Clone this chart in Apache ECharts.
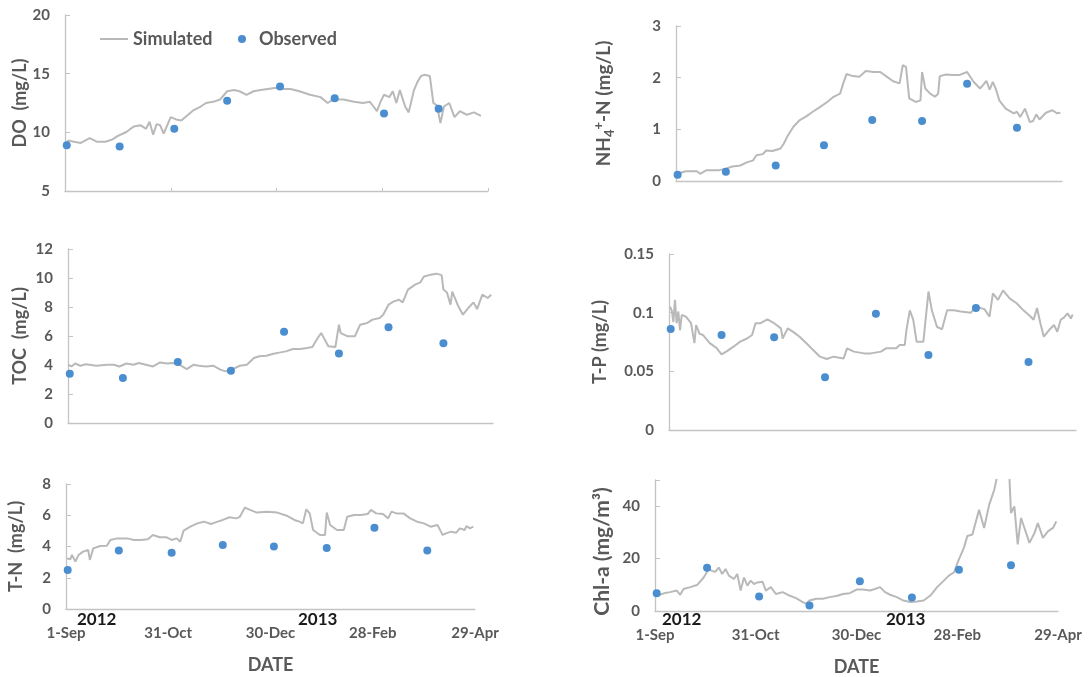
<!DOCTYPE html>
<html>
<head>
<meta charset="utf-8">
<script src="https://cdn.jsdelivr.net/npm/echarts@6/dist/echarts.min.js"></script>
<style>
  html, body { margin: 0; padding: 0; background: #fff; }
  #chart { width: 1088px; height: 677px; }
</style>
</head>
<body>
<div id="chart"></div>
<script>
// Days counted from 1 September 2012; ticks every 60 days
const xTickLabels = ['1-Sep', '31-Oct', '30-Dec', '28-Feb', '29-Apr'];
const yearLabels = ['2012', '2013'];

// Sampling days of the observations
const obsDays = [1, 31, 62, 92, 122, 153, 181, 212];

// Observed values
const doObs  = [8.9, 8.8, 10.3, 12.7, 13.9, 12.9, 11.6, 12.0];
const nh4Obs = [0.12, 0.18, 0.30, 0.69, 1.18, 1.16, 1.88, 1.03];
const tocObs = [3.4, 3.1, 4.2, 3.6, 6.3, 4.8, 6.6, 5.5];
const tpObs  = [0.086, 0.081, 0.079, 0.045, 0.099, 0.064, 0.104, 0.058];
const tnObs  = [2.5, 3.75, 3.6, 4.1, 4.0, 3.9, 5.2, 3.75];
const chlObs = [6.8, 16.5, 5.5, 2.1, 11.4, 5.2, 15.7, 17.5];

// Simulated series as [day, value]
const doSim = [[0,9.0],[2,9.3],[5,9.2],[9,9.1],[14,9.5],[18,9.2],[23,9.2],[27,9.4],[30,9.7],[33,9.9],
  [35,10.05],[39,10.5],[43,10.6],[46,10.3],[48,10.9],[50,9.8],[52,10.7],[54,10.6],[56,9.9],[60,11.3],
  [63,11.1],[66,11.0],[69,11.4],[73,11.9],[77,12.2],[80,12.5],[84,12.6],[88,12.8],[92,13.5],[96,13.6],
  [99,13.5],[103,13.2],[107,13.5],[111,13.6],[115,13.7],[120,13.8],[124,13.7],[128,13.7],[133,13.5],[139,13.2],
  [145,13.0],[149,12.5],[152,12.8],[158,12.8],[164,12.6],[169,12.5],[173,12.6],[175,12.2],[177,11.8],[179,12.6],
  [181,13.2],[184,13.0],[186,13.5],[188,12.5],[190,13.6],[193,12.2],[195,11.7],[198,13.6],[200,14.3],[202,14.8],
  [204,14.9],[207,14.8],[208,14.9],[209,12.5],[211,12.3],[213,10.8],[215,12.2],[218,12.5],[221,11.3],[224,11.8],
  [228,11.5],[232,11.7],[236,11.4]];

const nh4Sim = [[1,0.14],[6,0.19],[13,0.19],[15,0.14],[19,0.21],[27,0.21],[31,0.24],[35,0.28],[40,0.30],[44,0.36],
  [48,0.40],[50,0.50],[54,0.52],[56,0.59],[60,0.58],[65,0.63],[67,0.72],[69,0.85],[73,1.05],[77,1.18],
  [81,1.25],[85,1.34],[89,1.42],[94,1.53],[98,1.63],[102,1.69],[104,1.89],[106,2.07],[110,2.03],[114,2.02],
  [118,2.13],[123,2.11],[127,2.11],[131,2.02],[135,1.93],[139,1.89],[141,2.24],[143,2.21],[145,1.60],[149,1.53],
  [152,1.56],[153,2.11],[155,1.79],[158,1.69],[161,1.63],[163,1.69],[164,2.03],[168,2.06],[172,2.05],[176,2.05],
  [181,2.11],[185,1.92],[189,1.79],[191,1.86],[193,1.94],[195,1.77],[197,1.92],[199,1.77],[201,1.56],[205,1.40],
  [210,1.31],[212,1.34],[214,1.24],[217,1.40],[220,1.14],[222,1.16],[224,1.29],[226,1.19],[230,1.32],[234,1.37],
  [237,1.31],[239,1.32]];

const tocSim = [[0,4.02],[2,3.9],[4,4.1],[7,3.95],[10,4.05],[16,3.95],[22,4.02],[26,4.02],[29,3.9],[33,4.1],
  [37,4.02],[40,4.14],[44,4.02],[48,3.9],[52,4.18],[56,4.1],[59,4.14],[63,4.02],[67,3.72],[71,4.02],
  [74,3.95],[78,3.9],[82,3.95],[86,3.68],[89,3.56],[93,3.72],[97,3.95],[101,4.02],[105,4.48],[108,4.6],
  [112,4.64],[116,4.78],[120,4.87],[123,4.94],[127,5.1],[131,5.1],[135,5.17],[138,5.24],[141,5.86],[143,6.2],
  [145,5.75],[147,5.29],[151,5.24],[153,6.78],[154,6.2],[158,5.98],[162,5.98],[165,6.78],[169,6.9],[172,7.13],
  [176,7.24],[178,7.47],[181,8.16],[184,8.39],[187,8.5],[189,8.32],[192,9.2],[196,9.54],[199,9.7],[201,10.1],
  [204,10.2],[208,10.3],[211,10.2],[212,9.2],[214,9.0],[216,8.16],[217,9.06],[220,8.16],[223,7.47],[226,7.93],
  [229,8.32],[231,7.86],[234,8.85],[237,8.62],[239,8.85]];

const tpSim = [[0.6,0.105],[1.6,0.102],[2.6,0.092],[3.5,0.111],[4.5,0.091],[5.5,0.101],[6.5,0.085],[7.5,0.098],[10,0.0966],[13,0.091],
  [15,0.074],[16,0.0895],[18,0.082],[20,0.081],[24,0.074],[28,0.070],[31,0.0645],[34,0.067],[38,0.071],[42,0.0753],
  [46,0.078],[49,0.081],[51,0.091],[54,0.091],[58,0.0943],[62,0.091],[66,0.0866],[67,0.078],[70,0.0866],[73,0.0838],
  [77,0.0795],[81,0.0739],[85,0.0682],[89,0.0625],[93,0.0605],[97,0.0625],[103,0.061],[105,0.0696],[109,0.0668],[115,0.0653],
  [119,0.0653],[125,0.0668],[128,0.0696],[134,0.0696],[136,0.0724],[139,0.0724],[140,0.085],[142,0.102],[144,0.094],[146,0.0753],
  [150,0.0753],[153,0.118],[155,0.102],[158,0.088],[161,0.0858],[164,0.102],[168,0.102],[172,0.101],[178,0.100],[181,0.105],
  [186,0.103],[189,0.0966],[191,0.1165],[194,0.111],[197,0.119],[201,0.112],[205,0.108],[209,0.102],[213,0.097],[215,0.094],
  [217,0.104],[219,0.091],[221,0.0795],[224,0.085],[227,0.0895],[229,0.0838],[231,0.094],[233,0.096],[235,0.0994],[237,0.095],
  [238,0.0986]];

const tnSim = [[0.6,3.24],[2.5,3.18],[3.5,3.46],[5.5,3.03],[7.4,3.46],[10,3.67],[13,3.78],[14,3.14],[16,3.88],[20,4.03],
  [24,4.05],[26,4.42],[30,4.52],[36,4.52],[40,4.42],[44,4.42],[48,4.46],[51,4.74],[55,4.59],[59,4.59],
  [62,4.42],[65,4.52],[67,4.31],[69,5.01],[73,5.27],[77,5.48],[81,5.59],[85,5.44],[89,5.59],[92,5.7],
  [96,5.87],[100,5.8],[102,5.9],[105,6.49],[108,6.34],[112,6.17],[118,6.23],[124,6.17],[130,5.95],[134,5.7],
  [137,5.59],[139,5.48],[141,6.38],[143,6.12],[145,5.06],[149,4.74],[152,4.74],[153,6.17],[155,5.38],[159,5.06],
  [163,5.06],[165,5.9],[169,6.02],[173,6.02],[177,6.08],[179,6.34],[182,6.12],[186,6.08],[189,5.8],[191,6.23],
  [194,6.12],[198,6.12],[202,5.8],[206,5.59],[210,5.48],[214,5.27],[218,5.38],[220,4.95],[221,4.74],[223,4.84],
  [226,4.95],[229,4.88],[231,5.16],[234,5.06],[235,5.31],[237,5.16],[239,5.27]];

const chlSim = [[0.6,7.2],[3,6.2],[6,6.9],[9,7.2],[13,7.8],[15,6.2],[17,8.4],[21,9.1],[25,9.9],[29,12.8],
  [32,16],[34,15.3],[36,15],[38,16.6],[40,14.1],[42,16],[44,13.5],[47,12.2],[49,14.1],[51,7.8],
  [53,12.8],[55,9.7],[57,11.6],[59,10.3],[61,10.9],[64,11.2],[66,7.8],[69,9.1],[72,6.5],[76,7.2],
  [80,5.9],[84,4.9],[88,3.4],[90,2.8],[92,4.0],[96,4.7],[100,4.7],[104,5.3],[108,5.7],[112,6.5],
  [116,6.8],[120,8.2],[124,8.2],[128,7.8],[131,8.4],[134,9.1],[137,7.2],[140,6.2],[144,5.3],[148,4.0],
  [152,3.4],[156,3.6],[160,4.0],[164,5.9],[168,9.1],[172,11.6],[175,13.5],[178,14.7],[181,19.7],[184,24.2],
  [186,28.6],[189,29.2],[193,38.6],[196,31.7],[199,40.5],[202,46.2],[204,52],[207,53],[211,52],[212,37.4],
  [214,39.9],[216,25.4],[218,35.5],[220,31.7],[223,26],[226,29.8],[228,33.6],[231,27.9],[234,30.4],[237,31.7],
  [239,34.2]];

// Panel layout and axis settings
const TEXT = '#595959';
const FONT = 'Lato, "Open Sans", sans-serif';
const panels = [
  { name: 'DO  (mg/L)', sim: doSim, obs: doObs, y: { min: 5, max: 20, interval: 5 },
    grid: { left: 65, top: 15, width: 423, height: 176 }, gap: 36, labels: false, xTicks: true },
  { name: '{t|NH}{sub|4}{sup|+}{t|-N (mg/L)}', sim: nh4Sim, obs: nh4Obs, y: { min: 0, max: 3, interval: 1 },
    grid: { left: 676, top: 26, width: 386, height: 155 }, gap: 60, labels: false, nameSize: 19 },
  { name: 'TOC  (mg/L)', sim: tocSim, obs: tocObs, y: { min: 0, max: 12, interval: 2 },
    grid: { left: 68, top: 249, width: 425, height: 174 }, gap: 39, labels: false },
  { name: 'T-P (mg/L)', sim: tpSim, obs: tpObs, y: { min: 0, max: 0.15, interval: 0.05 },
    grid: { left: 669, top: 254, width: 407, height: 176 }, gap: 60, labels: false,
    fmt: v => String(+v.toFixed(2)) },
  { name: 'T-N  (mg/L)', sim: tnSim, obs: tnObs, y: { min: 0, max: 8, interval: 2 },
    grid: { left: 66, top: 484, width: 409, height: 125 }, gap: 41, labels: true },
  { name: 'Chl-a (mg/m³)', sim: chlSim, obs: chlObs, y: { min: 0, max: 50, interval: 20 },
    grid: { left: 655, top: 480, width: 403, height: 132 }, gap: 42, labels: true, nameSize: 21,
    namePad: [0, 12, 0, 0], fmt: v => (v > 45 ? '' : String(v)) }
];

const grids = [], xAxes = [], yAxes = [], series = [];
panels.forEach((p, i) => {
  const ns = p.nameSize || 18;
  grids.push(Object.assign({ containLabel: false }, p.grid));
  xAxes.push({
    type: 'value', gridIndex: i, min: 0, max: 240, interval: 60,
    axisLine: { lineStyle: { color: '#c4c4c4', width: 1.3 } },
    axisTick: { show: !!p.xTicks, inside: true, length: 3, lineStyle: { color: '#c4c4c4' } },
    splitLine: { show: false },
    axisLabel: {
      show: p.labels, margin: 17, color: TEXT, fontFamily: FONT, fontWeight: 'bold', fontSize: 15,
      formatter: v => xTickLabels[Math.round(v / 60)]
    },
    name: p.labels ? 'DATE' : '', nameLocation: 'middle', nameGap: 47,
    nameTextStyle: { color: TEXT, fontFamily: FONT, fontWeight: 'bold', fontSize: 18 }
  });
  yAxes.push(Object.assign({
    type: 'value', gridIndex: i,
    axisLine: { show: true, lineStyle: { color: '#c4c4c4', width: 1.3 } },
    axisTick: { show: true, inside: true, length: 5, lineStyle: { color: '#c4c4c4' } },
    splitLine: { show: false },
    axisLabel: {
      margin: 15, color: TEXT, fontFamily: FONT, fontWeight: 'bold', fontSize: 15,
      formatter: p.fmt || (v => String(v))
    },
    name: p.name, nameLocation: 'middle', nameRotate: 90, nameGap: p.gap,
    nameTextStyle: {
      color: TEXT, fontFamily: FONT, fontWeight: 'bold', fontSize: ns,
      padding: p.namePad || 0,
      rich: {
        t: { color: TEXT, fontFamily: FONT, fontWeight: 'bold', fontSize: ns, lineHeight: 24, verticalAlign: 'middle' },
        sub: { color: TEXT, fontFamily: FONT, fontWeight: 'bold', fontSize: 13, lineHeight: 13, verticalAlign: 'bottom' },
        sup: { color: TEXT, fontFamily: FONT, fontWeight: 'bold', fontSize: 13, lineHeight: 13, verticalAlign: 'top' }
      }
    }
  }, p.y));
  series.push({
    name: 'Simulated', type: 'line', xAxisIndex: i, yAxisIndex: i,
    data: p.sim, symbol: 'none', showSymbol: false, clip: true,
    lineStyle: { color: '#b9b9b9', width: 2 }, itemStyle: { color: '#b9b9b9' },
    z: 2
  });
  series.push({
    name: 'Observed', type: 'scatter', xAxisIndex: i, yAxisIndex: i,
    data: obsDays.map((d, k) => [d, p.obs[k]]), symbolSize: 8,
    itemStyle: { color: '#4a8ed0', opacity: 1 }, z: 3
  });
});

const legendText = { color: TEXT, fontFamily: FONT, fontWeight: 'bold', fontSize: 18 };
const yearStyle = { fill: '#1a1a1a', font: 'bold 17px Lato, "Open Sans", sans-serif', textAlign: 'center', textVerticalAlign: 'middle' };

const chart = echarts.init(document.getElementById('chart'), null, { renderer: 'canvas' });
chart.setOption({
  backgroundColor: '#ffffff',
  animation: false,
  grid: grids,
  xAxis: xAxes,
  yAxis: yAxes,
  legend: [
    { data: [{ name: 'Simulated', icon: 'rect', itemStyle: { color: '#b9b9b9' } }], left: 100, top: 30, padding: 0,
      itemWidth: 28, itemHeight: 2, textStyle: legendText, selectedMode: false },
    { data: [{ name: 'Observed', icon: 'circle' }], left: 238, top: 30, padding: 0,
      itemWidth: 24, itemHeight: 8, textStyle: legendText, selectedMode: false }
  ],
  graphic: [
    { type: 'text', left: 77, top: 611, style: Object.assign({ text: yearLabels[0] }, yearStyle) },
    { type: 'text', left: 298, top: 611, style: Object.assign({ text: yearLabels[1] }, yearStyle) },
    { type: 'text', left: 662, top: 611, style: Object.assign({ text: yearLabels[0] }, yearStyle) },
    { type: 'text', left: 886, top: 611, style: Object.assign({ text: yearLabels[1] }, yearStyle) }
  ],
  series: series
});
</script>
</body>
</html>
